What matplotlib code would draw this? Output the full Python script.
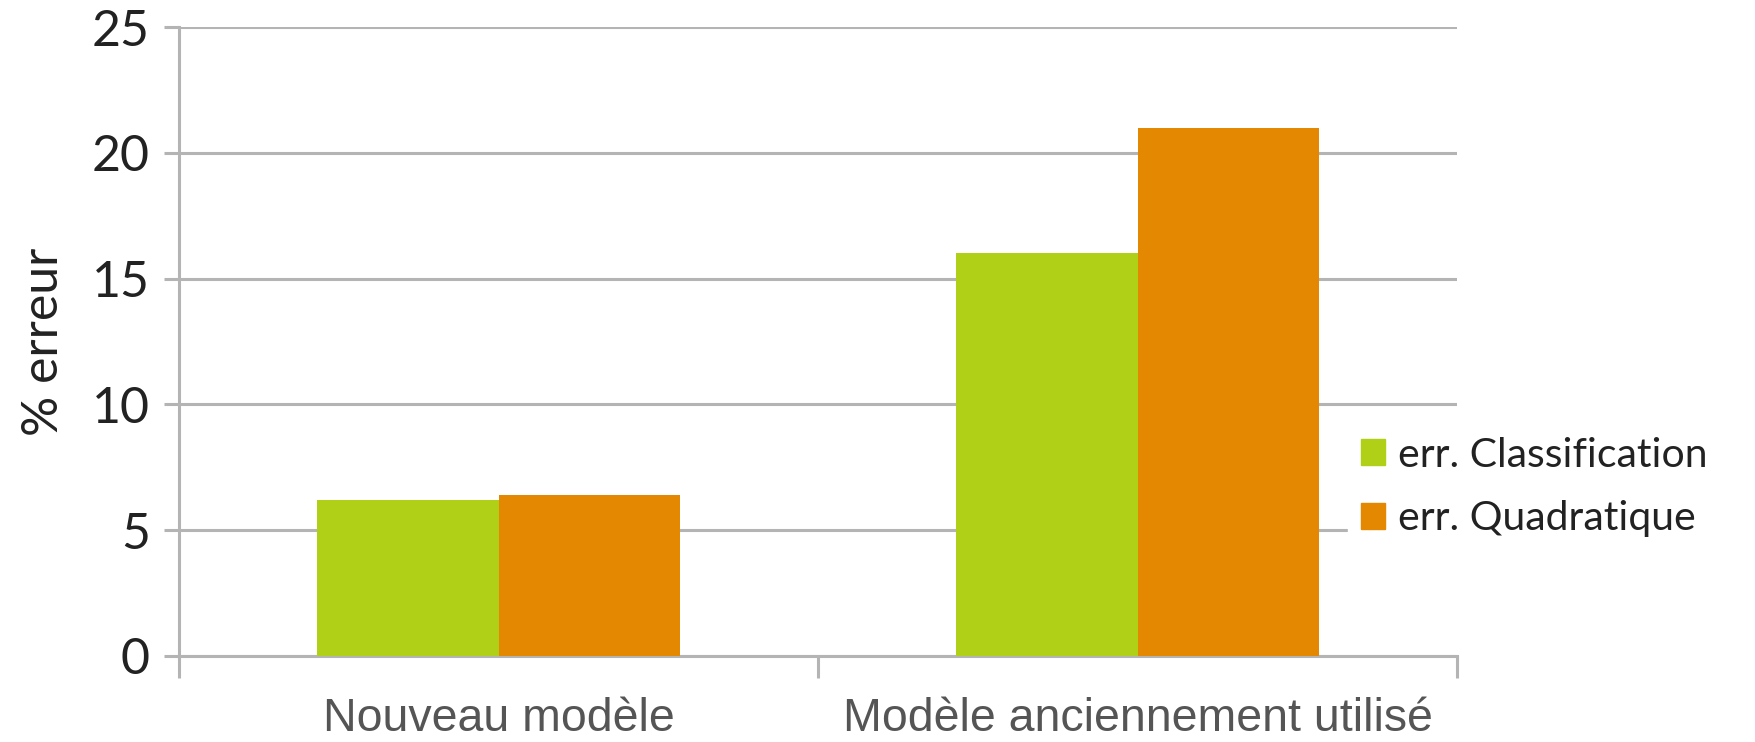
import numpy as np
import matplotlib.pyplot as plt
from matplotlib.patches import Patch

# données
categories = ['Nouveau modèle', 'Modèle anciennement utilisé']
err_classification = [6.2, 16.0]
err_quadratique = [6.4, 21.0]
series_names = ['err. Classification', 'err. Quadratique']

green = '#b0cf17'
orange = '#e38800'
grid_col = '#b4b4b4'

fig = plt.figure(figsize=(17.55, 7.42), dpi=100)
ax = fig.add_axes([179 / 1755, 1 - 656 / 742, (1457 - 179) / 1755, (656 - 27) / 742])

x = np.arange(len(categories))
w = 0.284
ax.bar(x - w / 2, err_classification, w, color=green, zorder=3)
ax.bar(x + w / 2, err_quadratique, w, color=orange, zorder=3)

ax.set_xlim(-0.5, 1.5)
ax.set_ylim(0, 25)
ax.set_yticks([0, 5, 10, 15, 20, 25])
ax.yaxis.grid(True, color=grid_col, linewidth=2.2, zorder=0)
ax.set_axisbelow(True)

# axes
for s in ['top', 'right', 'bottom']:
    ax.spines[s].set_visible(False)
ax.spines['left'].set_color(grid_col)
ax.spines['left'].set_linewidth(2.2)
ax.axhline(0, color=grid_col, linewidth=2.2, zorder=1, clip_on=False)

ax.tick_params(axis='y', length=11, width=2.2, color=grid_col, pad=10,
               labelsize=36, labelcolor='#222222')
for t in ax.get_yticklabels():
    t.set_family(['Lato', 'DejaVu Sans'])

# ticks de séparation sur l'axe x
ax.set_xticks([-0.5, 0.5, 1.5])
ax.set_xticklabels([])
ax.tick_params(axis='x', length=16, width=2.2, color=grid_col)
for i, c in enumerate(categories):
    ax.text(x[i], -2.5, c, ha='center', va='center', fontsize=33.5,
            color='#555555', family=['Liberation Sans', 'DejaVu Sans'])

ax.set_ylabel('% erreur', fontsize=36, color='#222222', labelpad=18,
              family=['Lato', 'DejaVu Sans'])

handles = [Patch(color=green), Patch(color=orange)]
leg = fig.legend(handles, series_names, loc='center left',
                 bbox_to_anchor=(1328 / 1755, 1 - 487 / 742),
                 frameon=True, facecolor='white', edgecolor='white', framealpha=1,
                 handlelength=0.6, handleheight=0.6, handletextpad=0.3,
                 labelspacing=0.65, borderpad=0.3,
                 prop={'family': ['Lato', 'DejaVu Sans'], 'size': 29.5})
for t in leg.get_texts():
    t.set_color('#222222')

fig.savefig('out.png', dpi=100)
